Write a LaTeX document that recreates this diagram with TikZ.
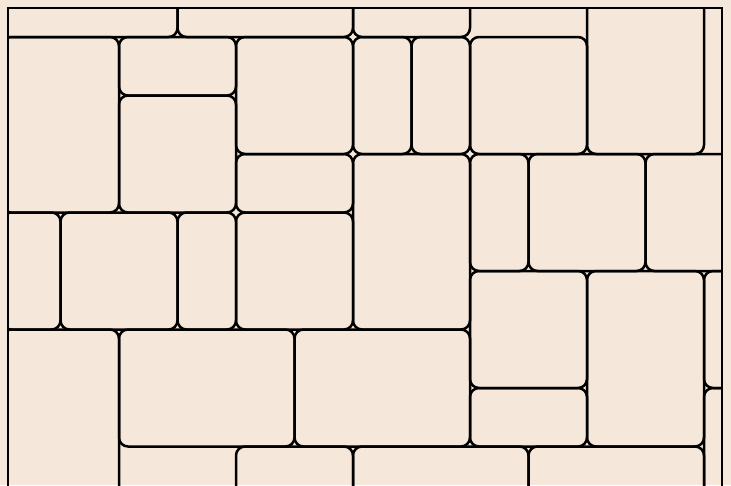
\documentclass[tikz,border=0pt]{standalone}
\definecolor{paper}{RGB}{245,232,218}
\begin{document}
\begin{tikzpicture}[x=1pt,y=-1pt,tile/.style={draw,line width=2.5pt,rounded corners=9pt}]
\useasboundingbox (0,0) rectangle (731,485);
\clip (0,0) rectangle (731,485);
\fill[paper] (0,0) rectangle (731,485);
\begin{scope}
\clip (8,8) rectangle (722,520);
\begin{scope}[shift={(2pt,21.5pt)},x=58.5pt,y=-58.5pt]
\draw[tile] (-1,0) rectangle (3,1);
\draw[tile] (3,0) rectangle (6,1);
\draw[tile] (6,0) rectangle (8,1);
\draw[tile] (10,-1) rectangle (12,3);
\draw[tile] (0,1) rectangle (2,4);
\draw[tile] (2,1) rectangle (4,2);
\draw[tile] (2,2) rectangle (4,4);
\draw[tile] (4,1) rectangle (6,3);
\draw[tile] (6,1) rectangle (7,3);
\draw[tile] (7,1) rectangle (8,3);
\draw[tile] (8,1) rectangle (10,3);
\draw[tile] (4,3) rectangle (6,4);
\draw[tile] (6,3) rectangle (8,6);
\draw[tile] (8,3) rectangle (9,5);
\draw[tile] (9,3) rectangle (11,5);
\draw[tile] (11,3) rectangle (13,5);
\draw[tile] (0,4) rectangle (1,6);
\draw[tile] (1,4) rectangle (3,6);
\draw[tile] (3,4) rectangle (4,6);
\draw[tile] (4,4) rectangle (6,6);
\draw[tile] (8,5) rectangle (10,7);
\draw[tile] (10,5) rectangle (12,8);
\draw[tile] (12,5) rectangle (13,7);
\draw[tile] (12,7) rectangle (13,9);
\draw[tile] (0,6) rectangle (2,9);
\draw[tile] (2,6) rectangle (5,8);
\draw[tile] (5,6) rectangle (8,8);
\draw[tile] (8,7) rectangle (10,8);
\draw[tile] (4,8) rectangle (6,9);
\draw[tile] (6,8) rectangle (9,9);
\draw[tile] (9,8) rectangle (12,9);
\end{scope}
\end{scope}
\draw[line width=2.5pt] (8,8) rectangle (722,520);
\end{tikzpicture}
\end{document}
